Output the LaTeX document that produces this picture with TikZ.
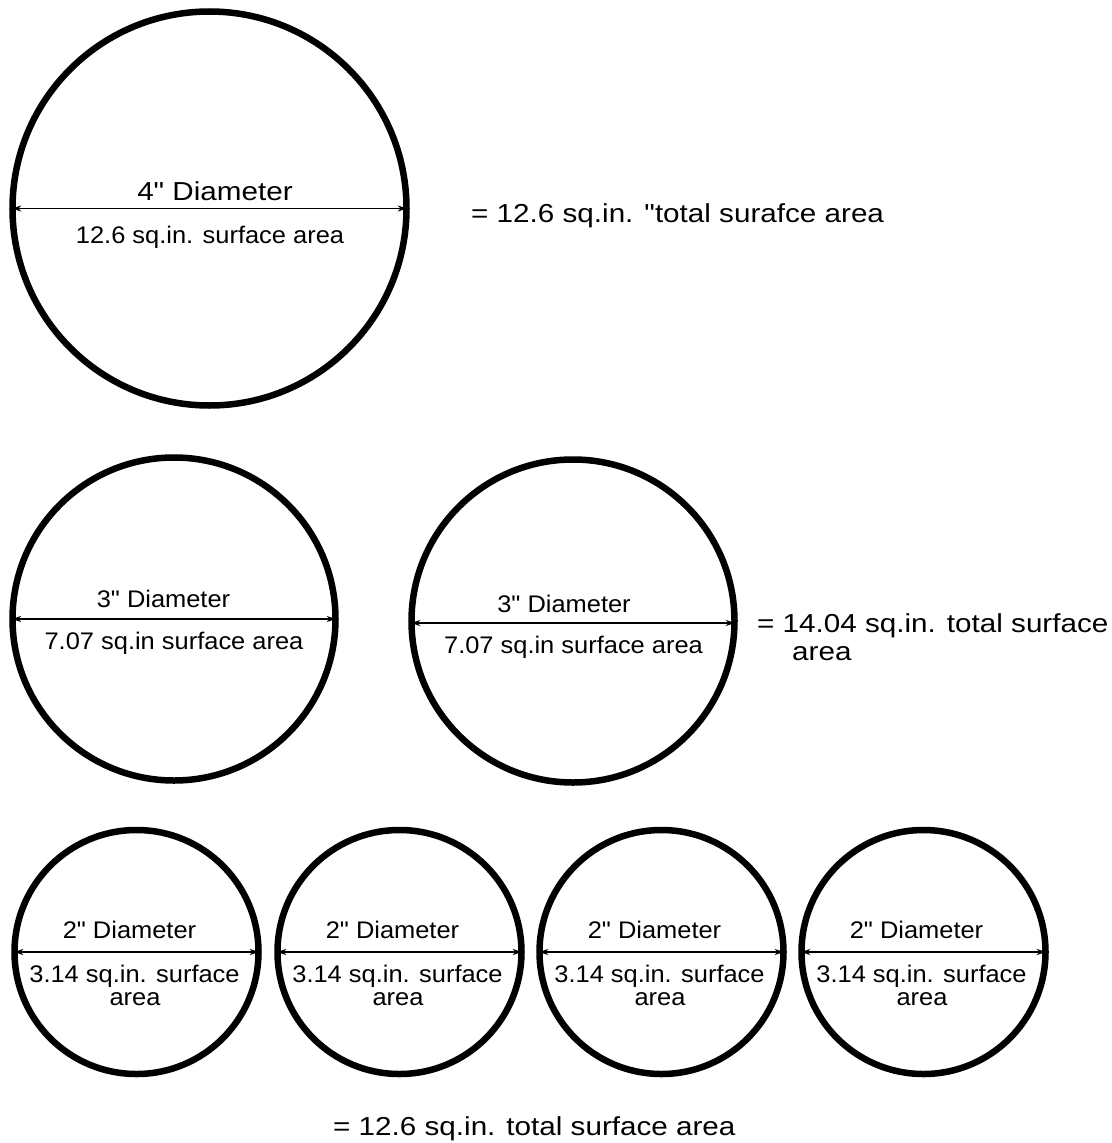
\documentclass[tikz,border=0pt]{standalone}
\usepackage{fontspec}
\setmainfont{Liberation Sans}[Ligatures=TeXOff]
\usetikzlibrary{arrows.meta}
\newcommand\ntext[1]{{\fontsize{24}{28}\selectfont\scalebox{1.06}[1]{#1}}}
\newcommand\btext[1]{{\fontsize{26}{28}\selectfont\scalebox{1.14}[1]{#1}}}
\tikzset{
  ring/.style={circle, draw=black, line width=6.5pt, inner sep=0pt, minimum size=#1},
  dimline/.style={line width=1.4pt, {Stealth[length=9pt,width=6pt]}-{Stealth[length=9pt,width=6pt]}, shorten <=3pt, shorten >=3pt},
  lbl/.style={inner sep=0pt, anchor=base},
  lbll/.style={inner sep=0pt, anchor=base west}
}
\begin{document}
\begin{tikzpicture}[x=1pt,y=-1pt]
\useasboundingbox[fill=white] (0,0) rectangle (1111,1143);
% 4 inch circle
\node[ring=394pt] (c4) at (209.5,208.5) {};
\draw[dimline] (c4.west) -- (c4.east);
\node[lbl] (c4d) at (215,200) {\btext{4" Diameter}};
\node[lbl] (c4a) at (210,243) {\ntext{12.6 sq.in. surface area}};
\node[lbll] (t1) at (471,222) {\btext{= 12.6 sq.in. "total surafce area}};
% 3 inch circles
\node[ring=323pt] (c3a) at (174,619) {};
\node[ring=323pt] (c3b) at (573,621) {};
\draw[dimline] (c3a.west) -- (c3a.east);
\draw[dimline] ([yshift=-2pt]c3b.west) -- ([yshift=-2pt]c3b.east);
\node[lbl] (c3ad) at (163.5,607) {\ntext{3" Diameter}};
\node[lbl] (c3aa) at (174,649) {\ntext{7.07 sq.in surface area}};
\node[lbl] (c3bd) at (564,612) {\ntext{3" Diameter}};
\node[lbl] (c3ba) at (573.5,653) {\ntext{7.07 sq.in surface area}};
\node[lbll] (t2a) at (757,632) {\btext{= 14.04 sq.in. total surface}};
\node[lbll] (t2b) at (792,660) {\btext{area}};
% 2 inch circles
\foreach \i/\cx in {1/136.5,2/399.5,3/661.5,4/923.5}{
  \node[ring=244pt] (c2\i) at (\cx,952) {};
  \draw[dimline] (c2\i.west) -- (c2\i.east);
  \node[lbl] (c2\i d) at (\cx-7,938) {\ntext{2" Diameter}};
  \node[lbl] (c2\i a) at (\cx-2,982) {\ntext{3.14 sq.in. surface}};
  \node[lbl] (c2\i b) at (\cx-1.5,1005) {\ntext{area}};
}
\node[lbll] (t3) at (333,1135) {\btext{= 12.6 sq.in. total surface area}};
\end{tikzpicture}
\end{document}
